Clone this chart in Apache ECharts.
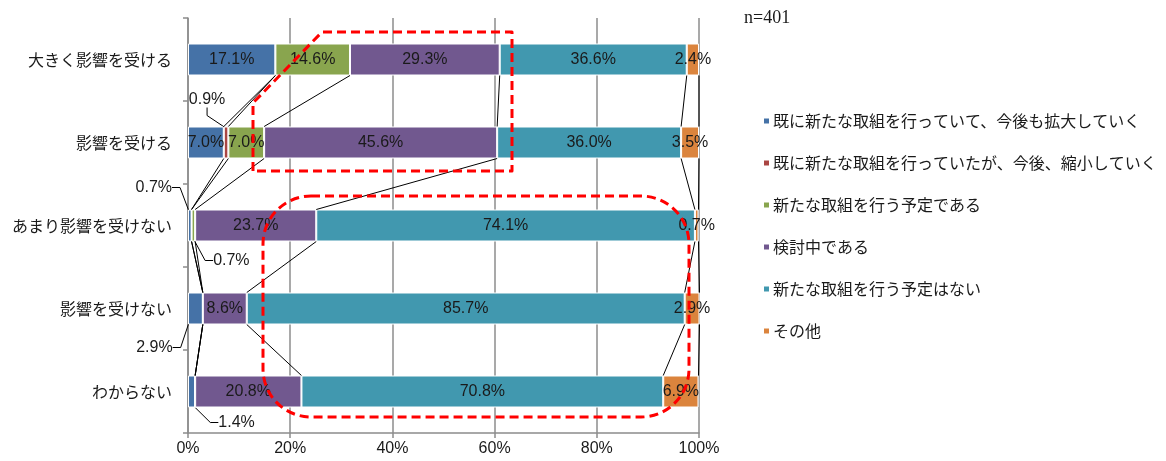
<!DOCTYPE html>
<html>
<head>
<meta charset="utf-8">
<script src="https://cdn.jsdelivr.net/npm/echarts@6/dist/echarts.min.js"></script>
<style>
  html, body { margin: 0; padding: 0; background: #ffffff; }
  #chart { width: 1166px; height: 461px; }
</style>
</head>
<body>
<div id="chart"></div>
<script>
// Response groups (rows, top to bottom)
const categories = ['大きく影響を受ける', '影響を受ける', 'あまり影響を受けない', '影響を受けない', 'わからない'];

// Answer options (stack order, left to right)
const seriesNames = [
  '既に新たな取組を行っていて、今後も拡大していく',
  '既に新たな取組を行っていたが、今後、縮小していく',
  '新たな取組を行う予定である',
  '検討中である',
  '新たな取組を行う予定はない',
  'その他'
];

// Shares in percent, one value per row
const expandNow   = [17.1, 7.0, 0.7, 2.9, 1.4];
const shrinkNow   = [0,    0.9, 0,   0,   0  ];
const newPlanned  = [14.6, 7.0, 0.7, 0,   0  ];
const considering = [29.3, 45.6, 23.7, 8.6, 20.8];
const noPlan      = [36.6, 36.0, 74.1, 85.7, 70.8];
const other       = [2.4,  3.5,  0.7,  2.9,  6.9];

const sampleNote = 'n=401';

const seriesValues = [expandNow, shrinkNow, newPlanned, considering, noPlan, other];
const colors = ['#4572A7', '#AA4643', '#89A54E', '#71588F', '#4198AF', '#DB843D'];

const BAR_W = 32;
const FONT_JP = '"Noto Sans CJK JP", "Noto Sans", sans-serif';
const FONT_NUM = '"Liberation Sans", Arial, sans-serif';

// Labels of thin segments sit outside the bar with a leader line: [series][row] -> offset
const movedLabels = {
  '1-1': [-19, -43],
  '0-2': [-36, -38],
  '2-2': [38, 35],
  '0-3': [-41, 39],
  '0-4': [45, 31]
};

const fmt = v => v.toFixed(1) + '%';

const barSeries = seriesValues.map((vals, s) => ({
  name: seriesNames[s],
  type: 'bar',
  stack: 'total',
  barWidth: BAR_W,
  itemStyle: { color: colors[s], borderColor: '#ffffff', borderWidth: 1 },
  label: {
    show: true,
    position: 'inside',
    color: '#1a1a1a',
    fontFamily: FONT_NUM,
    fontSize: 16,
    formatter: p => fmt(p.value)
  },
  labelLine: { show: false, length2: 8, lineStyle: { color: '#000', width: 1 } },
  labelLayout: p => {
    const off = movedLabels[s + '-' + p.dataIndex];
    return off ? { dx: off[0], dy: off[1] } : {};
  },
  emphasis: { disabled: true },
  data: vals.map((v, i) => {
    const item = { value: v, label: { show: v > 0 } };
    if (movedLabels[s + '-' + i]) {
      item.labelLine = { show: true, length2: 8, lineStyle: { color: '#000', width: 1 } };
    }
    return item;
  })
}));

// Series lines joining the end of each segment with the same segment in the next row
const connectorData = [];
seriesValues.forEach((vals, s) => {
  for (let i = 0; i < categories.length - 1; i++) {
    let a = 0, b = 0;
    for (let k = 0; k <= s; k++) { a += seriesValues[k][i]; b += seriesValues[k][i + 1]; }
    connectorData.push([a, i, b, i + 1]);
  }
});

const connectorSeries = {
  type: 'custom',
  name: 'series-lines',
  silent: true,
  z: 3,
  encode: { x: [0, 2], y: [1, 3] },
  renderItem: (params, api) => {
    const a = api.coord([api.value(0), api.value(1)]);
    const b = api.coord([api.value(2), api.value(3)]);
    return {
      type: 'line',
      shape: { x1: a[0], y1: a[1] + BAR_W / 2, x2: b[0], y2: b[1] - BAR_W / 2 },
      style: { stroke: '#000000', lineWidth: 1 }
    };
  },
  data: connectorData
};

const chart = echarts.init(document.getElementById('chart'), null, { renderer: 'canvas' });

chart.setOption({
  animation: false,
  backgroundColor: '#ffffff',
  textStyle: { fontFamily: FONT_JP },
  grid: { left: 188, right: 467, top: 18, bottom: 28, containLabel: false },
  xAxis: {
    type: 'value',
    min: 0, max: 100, interval: 20,
    axisLine: { show: true, lineStyle: { color: '#8c8c8c', width: 1.5 } },
    axisTick: { show: true, length: 5, lineStyle: { color: '#8c8c8c', width: 1.5 } },
    splitLine: { show: true, lineStyle: { color: '#8c8c8c', width: 1.5 } },
    axisLabel: { formatter: '{value}%', color: '#1a1a1a', fontFamily: FONT_NUM, fontSize: 16, margin: 8 }
  },
  yAxis: {
    type: 'category',
    inverse: true,
    data: categories,
    axisLine: { show: true, lineStyle: { color: '#8c8c8c', width: 1.5 } },
    axisTick: { show: true, length: 5, lineStyle: { color: '#8c8c8c', width: 1.5 } },
    axisLabel: { color: '#1a1a1a', fontFamily: FONT_JP, fontSize: 16, margin: 16 }
  },
  legend: {
    orient: 'vertical',
    left: 757,
    top: 108,
    itemWidth: 7,
    itemHeight: 7,
    itemGap: 26,
    icon: 'rect',
    data: seriesNames,
    textStyle: { color: '#1a1a1a', fontFamily: FONT_JP, fontSize: 16, padding: [0, 0, 0, -2] },
    selectedMode: false
  },
  graphic: [
    {
      type: 'text',
      left: 744, top: 9,
      style: { text: sampleNote, font: '18px "Liberation Serif", "DejaVu Serif", serif', fill: '#1a1a1a' }
    },
    {
      type: 'polygon',
      z: 100,
      shape: { points: [[253, 171], [253, 103], [322, 32], [512, 32], [512, 171]] },
      style: { fill: 'none', stroke: '#ff0000', lineWidth: 3, lineDash: [9, 5], lineJoin: 'round' }
    },
    {
      type: 'rect',
      z: 100,
      shape: { x: 263, y: 196, width: 426, height: 221, r: 48 },
      style: { fill: 'none', stroke: '#ff0000', lineWidth: 3, lineDash: [9, 5] }
    }
  ],
  series: barSeries.concat([connectorSeries])
});
</script>
</body>
</html>
